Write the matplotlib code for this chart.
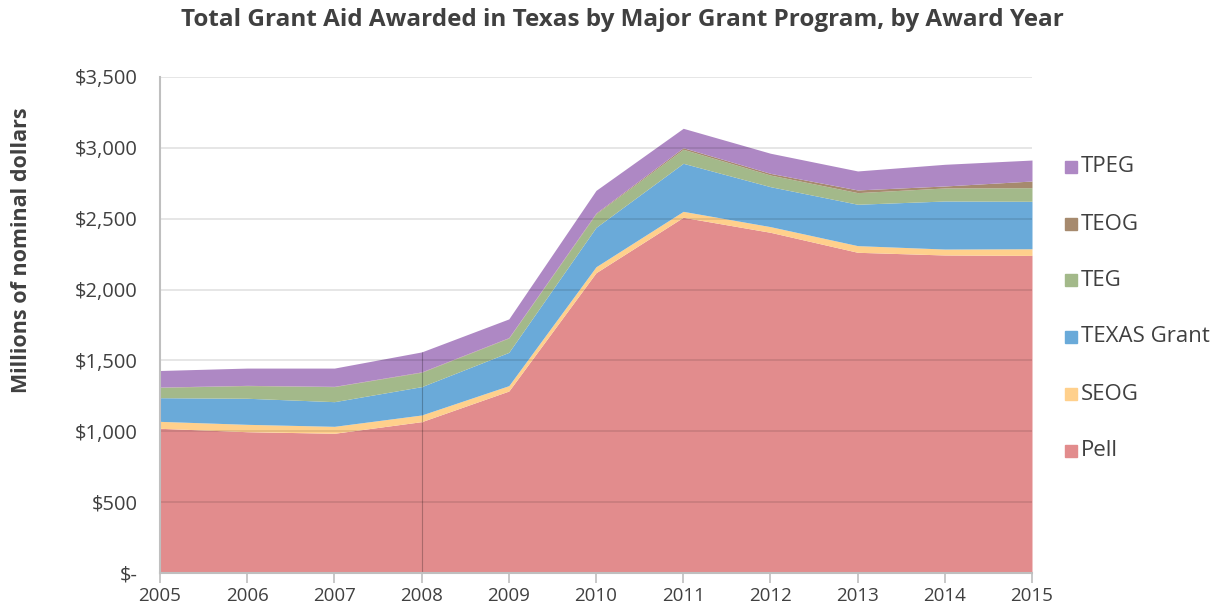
import matplotlib
matplotlib.use("Agg")
import matplotlib.pyplot as plt
import matplotlib.colors as mcolors
import numpy as np

years = [2005, 2006, 2007, 2008, 2009, 2010, 2011, 2012, 2013, 2014, 2015]
pell  = [1021, 997, 986, 1068, 1284, 2119, 2510, 2404, 2263, 2244, 2241]
seog  = [49, 52, 49, 47, 38, 42, 42, 40, 47, 42, 47]
texas = [167, 184, 174, 200, 235, 278, 339, 282, 292, 339, 335]
teg   = [73, 89, 106, 101, 101, 96, 99, 82, 82, 92, 96]
teog  = [2, 2, 2, 3, 3, 5, 11, 12, 19, 14, 47]
tpeg  = [117, 122, 129, 141, 132, 160, 137, 142, 134, 153, 148]

series_names = ["Pell", "SEOG", "TEXAS Grant", "TEG", "TEOG", "TPEG"]
series_vals = [pell, seog, texas, teg, teog, tpeg]
colors = ["#E28C8D", "#FFD08C", "#6AAAD9", "#A3B98A", "#A68A6E", "#AE88C4"]

yticks = [0, 500, 1000, 1500, 2000, 2500, 3000, 3500]
ytick_labels = ["$-", "$500", "$1,000", "$1,500", "$2,000", "$2,500", "$3,000", "$3,500"]

plt.rcParams['font.family'] = ['Open Sans', 'DejaVu Sans']

fig = plt.figure(figsize=(12.16, 6.09), dpi=100)
ax = fig.add_axes([160/1216, 1-573/609, (1032-160)/1216, (573-77)/609])

x = np.array(years)
base = np.zeros(len(years))
for name, vals, c in zip(series_names, series_vals, colors):
    top = base + np.array(vals)
    ax.fill_between(x, base, top, color=c, linewidth=0, zorder=2)
    i = years.index(2008)
    dark = np.array(mcolors.to_rgb(c)) * 0.75
    ax.vlines(2008, base[i], top[i], color=dark, linewidth=0.8, zorder=3)
    base = top

for yv in yticks[1:]:
    ax.axhline(yv, color="black", alpha=0.11, linewidth=1.3, zorder=4)

ax.set_xlim(2005, 2015)
ax.set_ylim(0, 3500)
ax.set_xticks(years)
ax.set_xticklabels([str(y) for y in years], fontsize=13.5, color="#404040")
ax.set_yticks(yticks)
ax.set_yticklabels(ytick_labels, fontsize=14.5, color="#404040")
ax.tick_params(axis='y', length=0, pad=16)
ax.tick_params(axis='x', length=7, width=1.2, color="#BFBFBF", pad=3)
for s in ["top", "right"]:
    ax.spines[s].set_visible(False)
for s in ["left", "bottom"]:
    ax.spines[s].set_color("#BFBFBF")
    ax.spines[s].set_linewidth(1.5)
    ax.spines[s].set_zorder(5)

fig.text(622/1216, 1-20/609, "Total Grant Aid Awarded in Texas by Major Grant Program, by Award Year",
         ha="center", va="center", fontsize=17.5, fontweight="bold", color="#404040")
fig.text(22/1216, 1-250/609, "Millions of nominal dollars", rotation=90,
         ha="center", va="center", fontsize=15.5, fontweight="bold", color="#404040")

leg_y = [167, 224, 280, 337, 394, 451]
for yy, name, c in zip(leg_y, series_names[::-1], colors[::-1]):
    fig.patches.append(plt.Rectangle((1065/1216, 1-(yy+6)/609), 12/1216, 12/609,
                                     transform=fig.transFigure, color=c))
    fig.text(1081/1216, 1-yy/609, name, ha="left", va="center", fontsize=16, color="#404040")

fig.savefig("out.png", dpi=100)
